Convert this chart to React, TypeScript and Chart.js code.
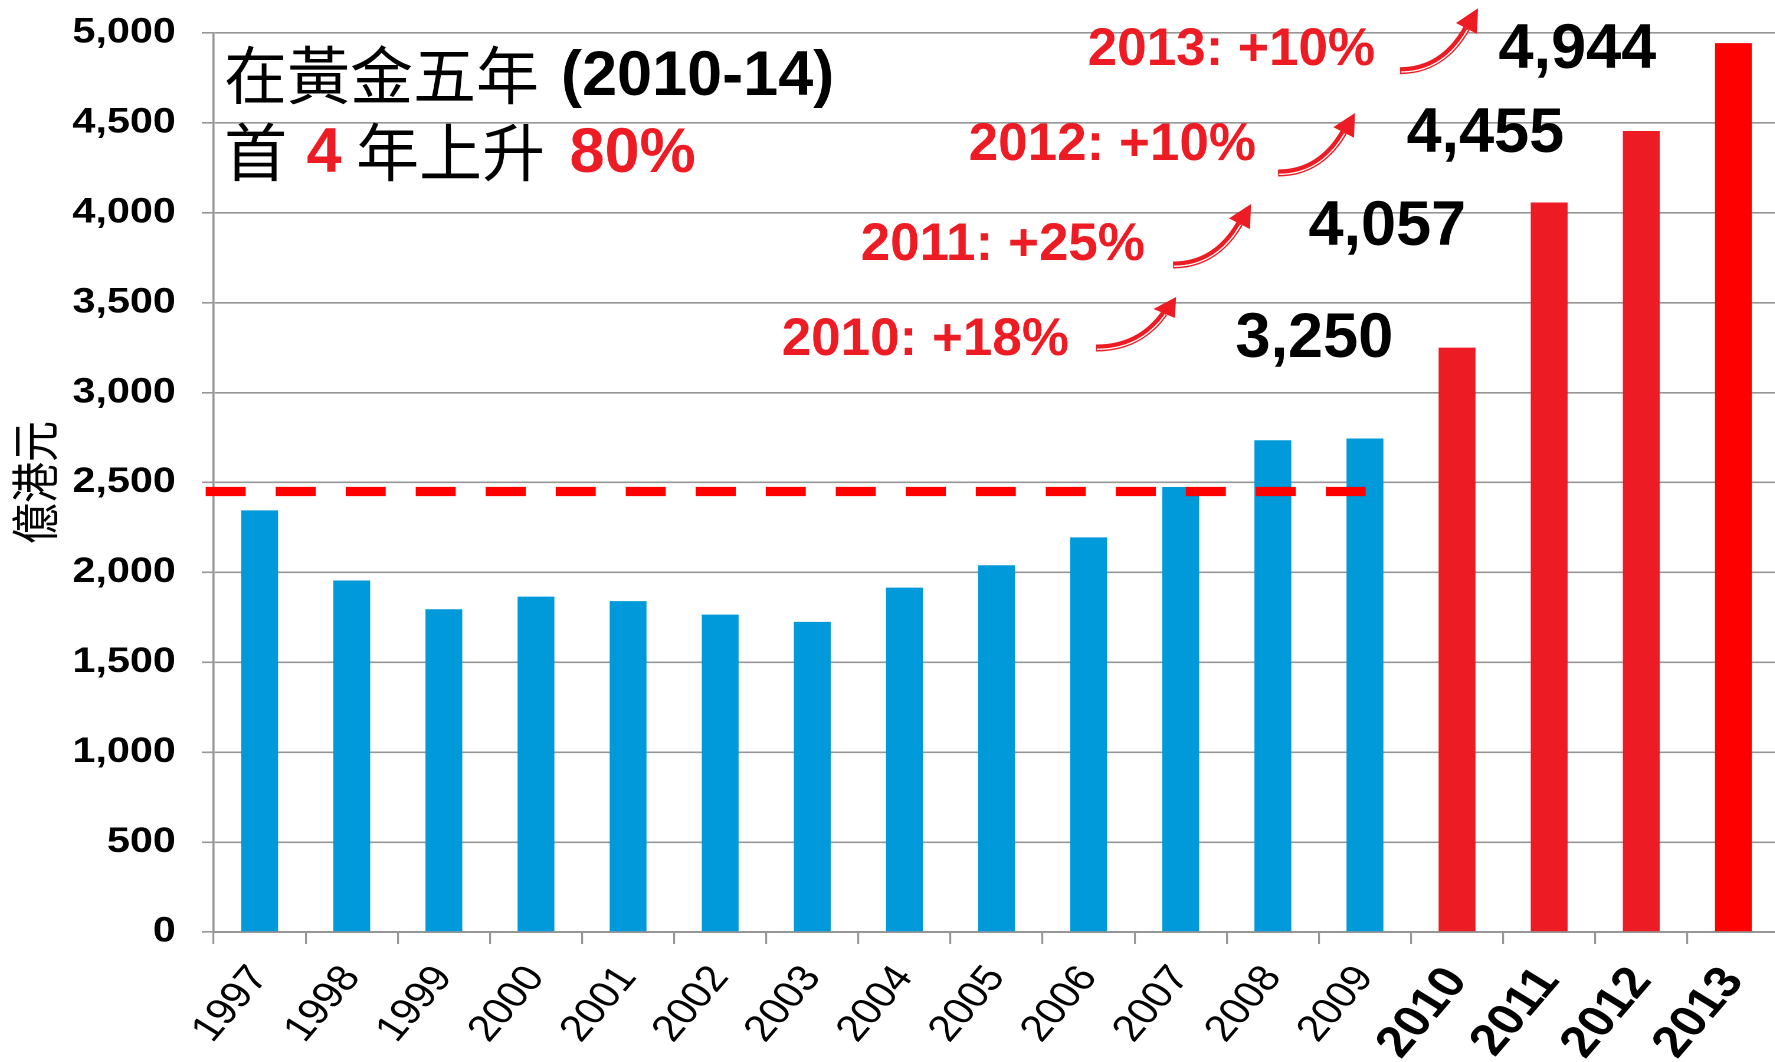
import React, { useEffect, useRef } from 'react';
import { Chart, registerables } from 'chart.js';

Chart.register(...registerables);

// ---------- data ----------
const years = ['1997', '1998', '1999', '2000', '2001', '2002', '2003', '2004', '2005', '2006', '2007', '2008', '2009', '2010', '2011', '2012', '2013'];
const revenue = [2345, 1955, 1795, 1865, 1840, 1765, 1725, 1915, 2040, 2195, 2475, 2735, 2745, 3250, 4057, 4455, 4944];
const barColors = [
  '#0099DA', '#0099DA', '#0099DA', '#0099DA', '#0099DA', '#0099DA', '#0099DA',
  '#0099DA', '#0099DA', '#0099DA', '#0099DA', '#0099DA', '#0099DA',
  '#ED1C24', '#ED1C24', '#ED1C24', '#FF0000',
];
const highlightFrom = 13; // 2010
const referenceLevel = 2450;
const referenceEndIndex = 12; // 2009
const yMin = 0;
const yMax = 5000;
const yStep = 500;
const yAxisTitle = '億港元';
const growthLabels = ['2010: +18%', '2011: +25%', '2012: +10%', '2013: +10%'];
const headline1 = ['在黃金五年', '(2010-14)'];
const headline2 = ['首', '4', '年上升', '80%'];

// ---------- styling ----------
const S = 1.18; // horizontal stretch of the original chart object
const CW = 1508;
const CH = 1062;
const FONT = "'Liberation Sans', Arial, Helvetica, sans-serif";
const CJK = "'Noto Sans CJK TC', 'Noto Sans CJK SC', sans-serif";
const GRID = '#969696';
const RED = '#ED1C24';

function drawArrow(ctx: CanvasRenderingContext2D, sx: number, sy: number, tx: number, ty: number) {
  const kx = (tx - sx) / 78;
  const ky = (sy - ty) / 62.4;
  const P = (px: number, py: number): [number, number] => [sx + px * kx, sy - py * ky];
  const curve = (dx: number, dy: number) => {
    const a = P(0, 0), b = P(38, 0), c = P(57.5, 26.3), d = P(66.5, 42.2);
    ctx.beginPath();
    ctx.moveTo(a[0] + dx, a[1] + dy);
    ctx.bezierCurveTo(b[0] + dx, b[1] + dy, c[0] + dx, c[1] + dy, d[0] + dx, d[1] + dy);
    ctx.stroke();
  };
  ctx.save();
  ctx.lineCap = 'butt';
  ctx.strokeStyle = RED;
  ctx.lineWidth = 7;
  curve(0, 0);
  ctx.strokeStyle = '#FFFFFF';
  ctx.lineWidth = 1.3;
  curve(0.9, 1.3);
  const t = P(78, 62.4), l = P(56, 47.7), r = P(77, 36.7);
  ctx.fillStyle = RED;
  ctx.beginPath();
  ctx.moveTo(t[0], t[1]);
  ctx.lineTo(l[0], l[1]);
  ctx.lineTo(r[0], r[1]);
  ctx.closePath();
  ctx.fill();
  ctx.restore();
}

const overlayPlugin = {
  id: 'overlay',
  afterDatasetsDraw(chart: any) {
    const { ctx, scales } = chart;
    const xs = scales.x;
    const ys = scales.y;
    const yy = ys.getPixelForValue(referenceLevel);
    const x0 = xs.left - 6.7;
    const x1 = xs.getPixelForValue(referenceEndIndex) + 0.6;
    ctx.save();
    ctx.strokeStyle = '#FF0000';
    ctx.lineWidth = 9.3;
    ctx.lineCap = 'butt';
    ctx.setLineDash([33.9, 25.43]);
    ctx.beginPath();
    ctx.moveTo(x0, yy);
    ctx.lineTo(x1, yy);
    ctx.stroke();
    ctx.restore();
  },
  afterDraw(chart: any) {
    const { ctx } = chart;
    ctx.save();
    ctx.scale(1 / S, 1); // draw overlays in unstretched page coordinates
    ctx.textBaseline = 'alphabetic';
    ctx.textAlign = 'left';

    const cjkFont = `63px ${CJK}`;
    const latFont = `bold 63px ${FONT}`;
    // headline
    ctx.fillStyle = '#000';
    ctx.font = cjkFont;
    ctx.fillText(headline1[0], 224, 99);
    ctx.font = latFont;
    ctx.fillText(headline1[1], 561, 95);
    ctx.font = cjkFont;
    ctx.fillText(headline2[0], 224, 176);
    ctx.fillStyle = RED;
    ctx.font = latFont;
    ctx.fillText(headline2[1], 306.5, 172);
    ctx.fillStyle = '#000';
    ctx.font = cjkFont;
    ctx.fillText(headline2[2], 356, 176);
    ctx.fillStyle = RED;
    ctx.font = latFont;
    ctx.fillText(headline2[3], 569.5, 172);

    // growth annotations (right aligned)
    const growthPos = [[1069, 355], [1145, 260], [1256, 160], [1375, 65]];
    ctx.font = `bold 53px ${FONT}`;
    ctx.fillStyle = RED;
    ctx.textAlign = 'right';
    growthLabels.forEach((txt, i) => ctx.fillText(txt, growthPos[i][0], growthPos[i][1]));

    // arrows
    const arrows = [[1096, 348, 1176, 297], [1173, 265, 1251, 204], [1278, 173, 1355, 113], [1400, 70.7, 1478, 8.3]];
    arrows.forEach((a) => drawArrow(ctx, a[0], a[1], a[2], a[3]));

    // value labels for highlighted years
    const valuePos = [[1235.5, 357], [1308.5, 245], [1406.5, 152], [1498.5, 68]];
    ctx.font = `bold 63px ${FONT}`;
    ctx.fillStyle = '#000';
    ctx.textAlign = 'left';
    revenue.slice(highlightFrom).forEach((v, i) =>
      ctx.fillText(v.toLocaleString('en-US'), valuePos[i][0], valuePos[i][1])
    );
    ctx.restore();
  },
};

export default function App() {
  const ref = useRef<HTMLCanvasElement>(null);
  useEffect(() => {
    if (!ref.current) return;
    const chart = new Chart(ref.current, {
      type: 'bar',
      data: {
        labels: years,
        datasets: [
          {
            data: revenue,
            backgroundColor: barColors,
            borderWidth: 0,
            categoryPercentage: 1,
            barPercentage: 0.4,
          },
        ],
      },
      options: {
        responsive: false,
        devicePixelRatio: 2,
        animation: false,
        layout: { padding: { top: 33, left: 0, right: 0, bottom: 0 } },
        plugins: {
          legend: { display: false },
          tooltip: { enabled: false },
        },
        scales: {
          x: {
            offset: true,
            grid: {
              display: true,
              drawOnChartArea: false,
              drawTicks: true,
              tickLength: 12,
              offset: true,
              color: GRID,
              lineWidth: 1.6,
            },
            border: { display: true, color: GRID, width: 2 },
            ticks: {
              autoSkip: false,
              maxRotation: 54,
              minRotation: 54,
              padding: 14,
              color: '#000',
              font: (c: any) =>
                c.index >= highlightFrom
                  ? { family: FONT, size: 44, weight: 'bold' }
                  : { family: FONT, size: 37, weight: 'normal' },
            },
            afterFit: (s: any) => {
              s.height = 130;
              s.paddingLeft = 0;
              s.paddingRight = 0;
            },
          },
          y: {
            min: yMin,
            max: yMax,
            ticks: {
              stepSize: yStep,
              padding: 22,
              color: '#000',
              font: { family: FONT, size: 35, weight: 'bold' },
              callback: (v: any) => Number(v).toLocaleString('en-US'),
            },
            grid: { color: GRID, lineWidth: 1.6, tickLength: 10, drawTicks: true },
            border: { display: true, color: GRID, width: 1.8 },
            title: {
              display: true,
              text: yAxisTitle,
              color: '#000',
              font: { family: CJK, size: 41, weight: 'normal' },
              padding: { top: 5, bottom: 0 },
            },
            afterFit: (s: any) => {
              s.width = 181;
              s.paddingTop = 0;
              s.paddingBottom = 0;
            },
          },
        },
      } as any,
      plugins: [overlayPlugin],
    });
    return () => chart.destroy();
  }, []);

  return (
    <div
      style={{
        position: 'fixed',
        left: 0,
        top: 0,
        width: 1775,
        height: CH,
        overflow: 'hidden',
        background: '#fff',
      }}
    >
      <div style={{ width: CW, height: CH, transform: `scaleX(${S})`, transformOrigin: '0 0' }}>
        <canvas
          ref={ref}
          width={CW}
          height={CH}
          style={{ width: `${CW}px`, height: `${CH}px`, display: 'block' }}
        />
      </div>
    </div>
  );
}
